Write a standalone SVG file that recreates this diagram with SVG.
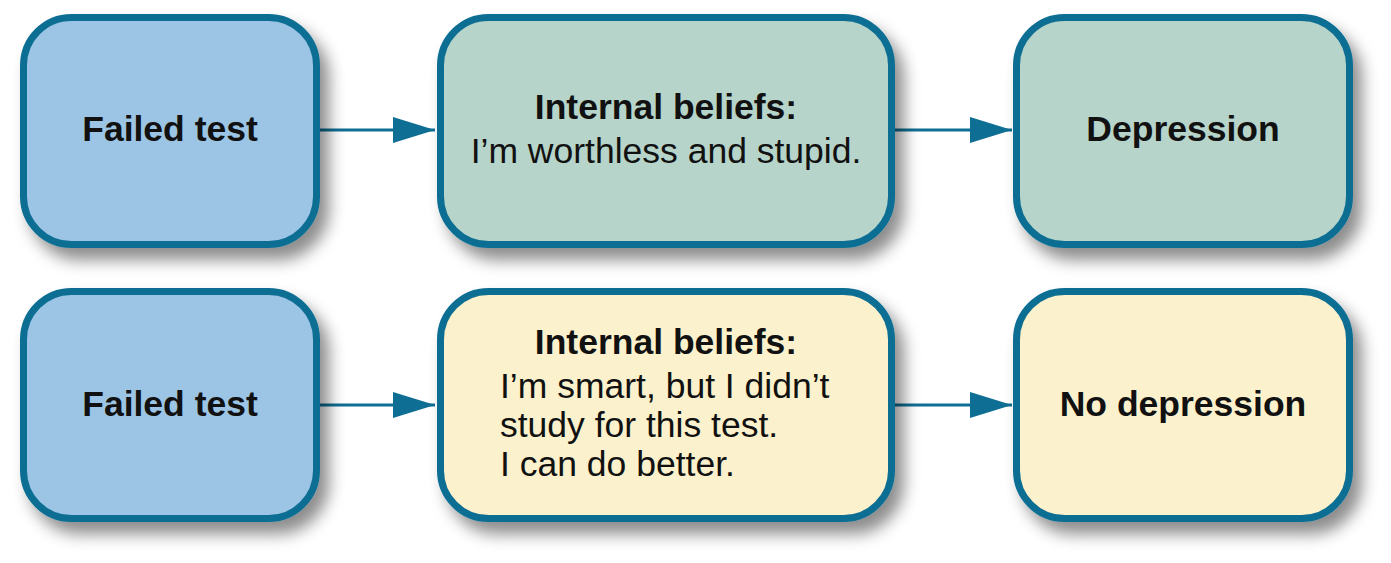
<svg xmlns="http://www.w3.org/2000/svg" width="1391" height="563" viewBox="0 0 1391 563">
<defs>
<filter id="sh" x="-20%" y="-20%" width="150%" height="150%">
<feDropShadow dx="9" dy="12" stdDeviation="8" flood-color="#000" flood-opacity="0.45"/>
</filter>
<marker id="ah" markerUnits="userSpaceOnUse" markerWidth="44" markerHeight="26" refX="42" refY="13" orient="auto">
<path d="M0,0 L42,13 L0,26 Z" fill="#0f6e93"/>
</marker>
</defs>
<style>
.box{stroke:#0f6e93;stroke-width:7;filter:url(#sh)}
.blue{fill:#9cc5e5}
.green{fill:#b6d4c9}
.yellow{fill:#fbf1cc}
.b{font-family:"Liberation Sans",Arial,sans-serif;font-weight:bold;font-size:35.5px;fill:#111}
.r{font-family:"Liberation Sans",Arial,sans-serif;font-size:35.5px;fill:#111}
.c{text-anchor:middle}
.con{stroke:#0f6e93;stroke-width:3;fill:none}
</style>
<g id="connectors">
<line class="con" x1="320" y1="130" x2="435" y2="130" marker-end="url(#ah)"/>
<line class="con" x1="895" y1="130" x2="1012" y2="130" marker-end="url(#ah)"/>
<line class="con" x1="320" y1="405" x2="435" y2="405" marker-end="url(#ah)"/>
<line class="con" x1="895" y1="405" x2="1012" y2="405" marker-end="url(#ah)"/>
</g>
<g id="n1">
<rect class="box blue" x="23.5" y="17.5" width="293" height="227" rx="48"/>
<text class="b c" x="170" y="141">Failed test</text>
</g>
<g id="n2">
<rect class="box green" x="440.5" y="17.5" width="451" height="227" rx="48"/>
<text class="b c" x="666" y="119">Internal beliefs:</text>
<text class="r c" x="666" y="163">I’m worthless and stupid.</text>
</g>
<g id="n3">
<rect class="box green" x="1016.5" y="17.5" width="333" height="227" rx="48"/>
<text class="b c" x="1183" y="141">Depression</text>
</g>
<g id="n4">
<rect class="box blue" x="23.5" y="291.5" width="293" height="227" rx="48"/>
<text class="b c" x="170" y="416">Failed test</text>
</g>
<g id="n5">
<rect class="box yellow" x="440.5" y="291.5" width="451" height="227" rx="48"/>
<text class="b c" x="666" y="354">Internal beliefs:</text>
<text class="r" x="500" y="398">I’m smart, but I didn’t</text>
<text class="r" x="500" y="437">study for this test.</text>
<text class="r" x="500" y="476">I can do better.</text>
</g>
<g id="n6">
<rect class="box yellow" x="1016.5" y="291.5" width="333" height="227" rx="48"/>
<text class="b c" x="1183" y="416">No depression</text>
</g>
</svg>
